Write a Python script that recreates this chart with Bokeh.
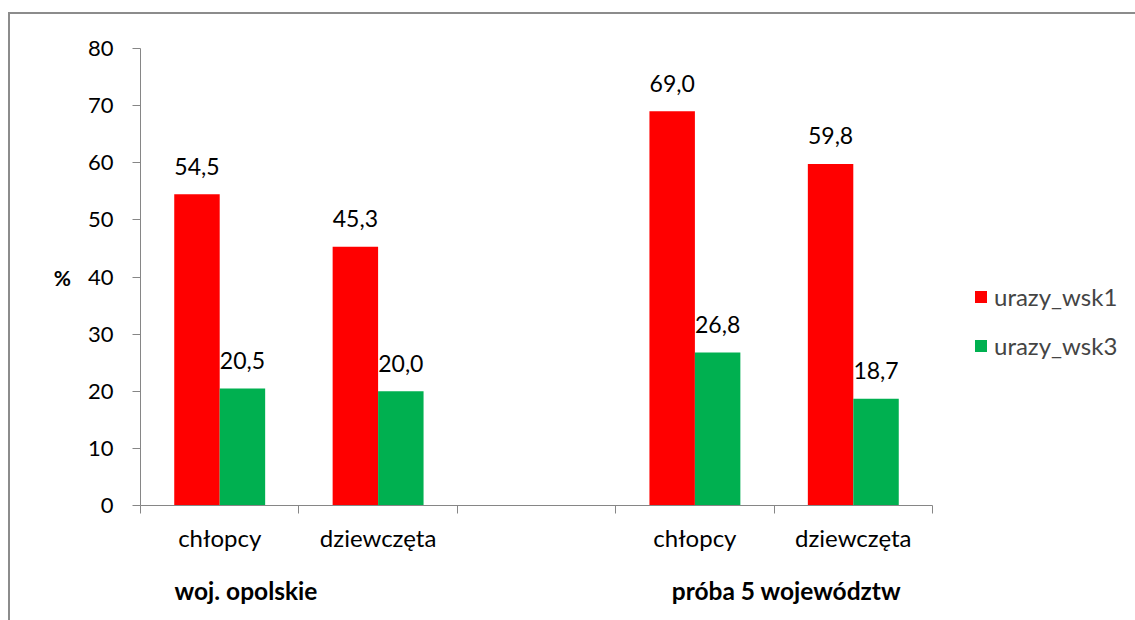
from bokeh.plotting import figure
from bokeh.models import (ColumnDataSource, FixedTicker, Legend, LegendItem,
                          LinearAxis, Range1d)
from bokeh.core.properties import value
from bokeh.embed import file_html
from bokeh.resources import INLINE

# --- data ---
categories = ["chłopcy", "dziewczęta", "chłopcy", "dziewczęta"]
slots = [0, 1, 3, 4]          # slot index of each category on the x axis (slot 2 is empty)
groups = ["woj. opolskie", "próba 5 województw"]
group_pos = [0.666, 4.078]    # x position of each group caption
urazy_wsk1 = [54.5, 45.3, 69.0, 59.8]
urazy_wsk3 = [20.5, 20.0, 26.8, 18.7]
y_ticks = [0, 10, 20, 30, 40, 50, 60, 70, 80]

FONT = "Lato"
RED = "#FF0000"
GREEN = "#00B050"
AXIS = "#868686"
FRAME = "#8c8c8c"

N_SLOTS = 5
SLOT_PX = 158.4
bar_w = 0.287
centers = [s + 0.5 for s in slots]

def fmt(v):
    return f"{v:.1f}".replace(".", ",")

src1 = ColumnDataSource(dict(x=[c - bar_w / 2 for c in centers], top=urazy_wsk1,
                             lab=[fmt(v) for v in urazy_wsk1]))
src3 = ColumnDataSource(dict(x=[c + bar_w / 2 for c in centers], top=urazy_wsk3,
                             lab=[fmt(v) for v in urazy_wsk3]))

# the plot frame runs to the right edge so the legend can sit inside it;
# the category axis itself is bounded to the five slots
x_end = N_SLOTS + (1135 - 140 - N_SLOTS * SLOT_PX) / SLOT_PX
p = figure(width=1135, height=620, output_backend="svg", toolbar_location=None,
           x_range=Range1d(0, x_end), y_range=Range1d(0, 80),
           min_border_left=140, min_border_right=0,
           min_border_top=48, min_border_bottom=115)
p.background_fill_alpha = 0
p.border_fill_alpha = 0
p.outline_line_color = None
p.xgrid.visible = False
p.ygrid.visible = False

# chart-area border (left and top edges visible, the rest runs off the page)
p.styles = {
    "background": (f"linear-gradient({FRAME},{FRAME}) 8px 12px / 2px 100% no-repeat, "
                   f"linear-gradient({FRAME},{FRAME}) 8px 12px / 100% 2px no-repeat, #ffffff")
}

r1 = p.vbar(x="x", top="top", width=bar_w, source=src1, fill_color=RED, line_color=None)
r3 = p.vbar(x="x", top="top", width=bar_w, source=src3, fill_color=GREEN, line_color=None)

# value labels above the bars
for src in (src1, src3):
    p.text(x="x", y="top", text="lab", source=src, text_align="center",
           text_baseline="middle", y_offset=-28, text_font=value(FONT),
           text_font_size="23px", text_color="black")

# y axis
yax = p.yaxis[0]
yax.ticker = FixedTicker(ticks=y_ticks)
yax.minor_tick_line_color = None
yax.major_tick_in = 0
yax.major_tick_out = 8
yax.major_label_standoff = 19
yax.axis_line_color = AXIS
yax.major_tick_line_color = AXIS
yax.major_label_text_font = FONT
yax.major_label_text_font_size = "22px"
yax.major_label_text_color = "black"
yax.axis_label = "%"
yax.axis_label_orientation = "horizontal"
yax.axis_label_standoff = 14
yax.axis_label_text_font = FONT
yax.axis_label_text_font_size = "21px"
yax.axis_label_text_font_style = "bold"
yax.axis_label_text_color = "black"

# x axis: tick marks at slot boundaries only
xax = p.xaxis[0]
xax.bounds = (0, N_SLOTS)
xax.ticker = FixedTicker(ticks=list(range(N_SLOTS + 1)))
xax.minor_tick_line_color = None
xax.major_tick_in = 0
xax.major_tick_out = 8
xax.major_label_standoff = 0
xax.axis_line_color = AXIS
xax.major_tick_line_color = AXIS
xax.major_label_overrides = {i: "" for i in range(N_SLOTS + 1)}

# category labels
cat_axis = LinearAxis(ticker=FixedTicker(ticks=centers),
                      major_label_overrides={c: t for c, t in zip(centers, categories)})
# group captions
grp_axis = LinearAxis(ticker=FixedTicker(ticks=group_pos),
                      major_label_overrides={g: t for g, t in zip(group_pos, groups)})
for ax, standoff, size, style in ((cat_axis, 9, "24px", "normal"),
                                  (grp_axis, 21, "24.5px", "bold")):
    ax.axis_line_color = None
    ax.major_tick_line_color = None
    ax.minor_tick_line_color = None
    ax.major_tick_in = 0
    ax.major_tick_out = 0
    ax.major_label_standoff = standoff
    ax.major_label_text_font = FONT
    ax.major_label_text_font_size = size
    ax.major_label_text_font_style = style
    ax.major_label_text_color = "black"
    p.add_layout(ax, "below")

legend = Legend(items=[LegendItem(label="urazy_wsk1", renderers=[r1]),
                       LegendItem(label="urazy_wsk3", renderers=[r3])],
                location=(833, 145))
legend.border_line_color = None
legend.background_fill_alpha = 0
legend.padding = 0
legend.margin = 0
legend.glyph_width = 15
legend.glyph_height = 15
legend.label_height = 29
legend.spacing = 20
legend.label_standoff = 6
legend.label_text_font = FONT
legend.label_text_font_size = "24px"
p.add_layout(legend)

open("out.html", "w").write(file_html(p, INLINE))
